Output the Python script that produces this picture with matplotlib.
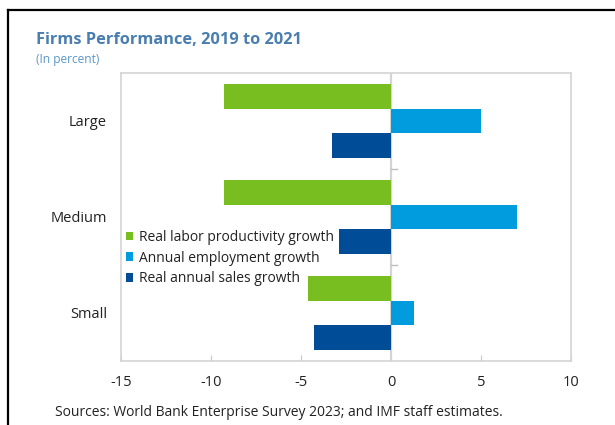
import matplotlib
matplotlib.use("Agg")
import matplotlib.pyplot as plt
from matplotlib.patches import Patch
from matplotlib.lines import Line2D
import numpy as np

plt.rcParams['font.family'] = ['Open Sans', 'DejaVu Sans']

categories = ["Large", "Medium", "Small"]
series_names = ["Real labor productivity growth",
                "Annual employment growth",
                "Real annual sales growth"]
labor_productivity = [-9.3, -9.3, -4.6]
employment = [5.0, 7.0, 1.3]
sales = [-3.3, -2.9, -4.3]
x_ticks = [-15, -10, -5, 0, 5, 10]

colors = ["#78BE21", "#009CDE", "#004C97"]
title_color = "#4A7EB0"
subtitle_color = "#5B96CC"
text_color = "#222222"
grid_gray = "#D4D4D4"

fig = plt.figure(figsize=(6.15, 4.25), dpi=100)
ax = fig.add_axes([121 / 615, 1 - 361 / 425, 450 / 615, 288 / 425])

y = np.arange(len(categories))
bar_h = 0.26
for i, (vals, col) in enumerate(zip([labor_productivity, employment, sales], colors)):
    ax.barh(y + (i - 1) * bar_h, vals, height=bar_h, color=col,
            edgecolor="none", label=series_names[i], zorder=3)

ax.set_xlim(x_ticks[0], x_ticks[-1])
ax.set_ylim(len(categories) - 0.5, -0.5)

# zero line and category separators on it
ax.axvline(0, color=grid_gray, lw=1.6, zorder=2)
for b in y[:-1] + 0.5:
    ax.plot([0, 0.35], [b, b], color="#BFBFBF", lw=1.0, zorder=2)

for s in ax.spines.values():
    s.set_color(grid_gray)
    s.set_linewidth(1.2)

ax.set_xticks(x_ticks)
ax.set_xticklabels([str(t) for t in x_ticks])
ax.tick_params(axis="x", direction="in", length=4, color="#C8C8C8",
               labelsize=10.5, labelcolor=text_color, pad=10)
ax.set_yticks([])
for yi, cat in zip(y, categories):
    ax.text(-0.031, yi, cat, transform=ax.get_yaxis_transform(),
            ha="right", va="center_baseline", fontsize=10.5, color=text_color)

handles = [Patch(facecolor=c, edgecolor="none") for c in colors]
leg = fig.legend(handles, series_names, loc="upper left",
                 bbox_to_anchor=(116 / 615, 1 - 220 / 425), frameon=False,
                 fontsize=10, handlelength=0.55, handleheight=0.55,
                 handletextpad=0.4, labelspacing=0.42, borderpad=0.2)
for t in leg.get_texts():
    t.set_color(text_color)

fig.text(36 / 615, 1 - 40 / 425, "Firms Performance, 2019 to 2021",
         fontsize=11.8, fontweight="bold", color=title_color,
         ha="left", va="center")
fig.text(36 / 615, 1 - 60 / 425, "(In percent)", fontsize=8.6,
         color=subtitle_color, ha="left", va="center")
fig.text(55 / 615, 1 - 413 / 425,
         "Sources: World Bank Enterprise Survey 2023; and IMF staff estimates.",
         fontsize=10, color=text_color, ha="left", va="center")

# panel frame
fig.add_artist(Line2D([8 / 615, 1], [1 - 10 / 425, 1 - 10 / 425],
                      transform=fig.transFigure, color="black", lw=1.6))
fig.add_artist(Line2D([8 / 615, 8 / 615], [0, 1 - 10 / 425],
                      transform=fig.transFigure, color="black", lw=1.6))

fig.savefig("out.png", dpi=100)
